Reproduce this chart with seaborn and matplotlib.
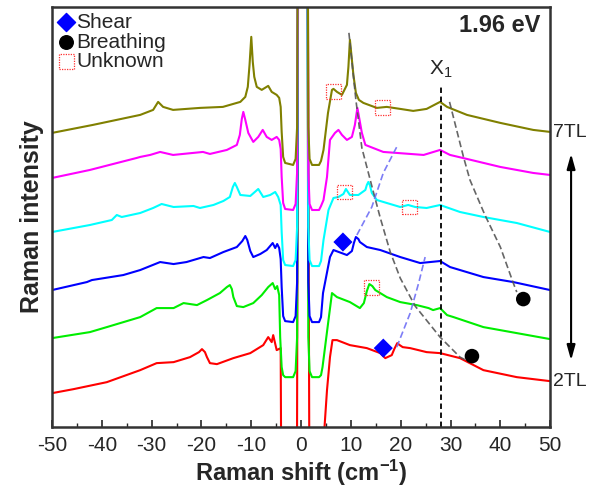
import numpy as np
import seaborn as sns
import matplotlib.pyplot as plt

sns.set_style("ticks")
plt.rcParams['font.family'] = ['Liberation Sans', 'DejaVu Sans']
plt.rcParams['mathtext.default'] = 'regular'
plt.rcParams['axes.unicode_minus'] = False

# spectra (Raman shift cm-1, intensity a.u.), bottom (2TL) to top (7TL)
red = [(-50, 34), (-45.7, 38), (-39.0, 45), (-32.3, 57), (-29.0, 64), (-25.6, 65), (-22.3, 70),
       (-20.5, 75), (-19.9, 78), (-19.3, 75), (-18.9, 70), (-18.3, 64), (-16.9, 63), (-13.6, 69),
       (-10.2, 74), (-7.6, 82), (-6.6, 90), (-5.9, 85), (-5.6, 92), (-4.9, 77), (-4.1, 79),
       (-3.85, -200), (-0.9, -200), (-0.4, 900), (1.1, 900), (1.75, -200), (4.55, -200), (4.7, 0),
       (5.2, 37), (5.8, 70), (6.3, 87), (7.2, 87), (9.8, 82), (13.2, 79), (15.9, 74), (16.9, 69),
       (18.2, 72), (18.7, 78), (19.3, 84), (19.8, 82), (20.4, 80), (21.9, 79), (25.2, 75), (27.9, 74),
       (31.9, 69), (36.6, 57), (43.3, 50), (50, 46)]

green = [(-50, 89), (-42.4, 95), (-39.0, 100), (-32.3, 110), (-29.0, 119), (-25.6, 119), (-23.6, 124),
         (-20.9, 122), (-18.9, 127), (-16.3, 134), (-14.9, 140), (-14.3, 142), (-13.9, 138), (-13.6, 130),
         (-12.9, 121), (-11.6, 120), (-9.6, 124), (-7.9, 132), (-6.6, 140), (-5.7, 144), (-5.2, 138),
         (-4.8, 141), (-4.4, 132), (-4.2, 90), (-3.9, 60), (-3.6, 52), (-3.2, 50), (-1.6, 50), (-1.1, 56),
         (-0.8, 90), (-0.4, 900), (1.1, 900), (1.45, 90), (1.7, 56), (2.2, 50), (3.6, 50), (4.0, 52),
         (4.3, 60), (5.5, 107), (6.2, 134), (7.2, 130), (9.8, 125), (11.8, 119), (12.6, 124), (13.2, 136),
         (13.7, 143), (14.3, 141), (14.9, 137), (17.2, 130), (19.9, 125), (23.2, 122), (25.6, 119),
         (26.5, 117), (27.9, 119), (29.3, 112), (30.6, 110), (36.6, 100), (43.3, 94), (50, 88)]

blue = [(-50, 137), (-43.0, 145), (-42.0, 147), (-35.7, 152), (-32.3, 157), (-28.3, 165), (-25.6, 163),
        (-23.0, 165), (-19.6, 170), (-18.3, 169), (-15.6, 175), (-12.9, 180), (-11.8, 186), (-11.2, 191),
        (-10.8, 187), (-10.2, 176), (-9.6, 170), (-8.2, 173), (-6.9, 177), (-5.7, 184), (-5.2, 179),
        (-4.8, 183), (-4.4, 179), (-4.1, 168), (-3.9, 140), (-3.6, 111), (-3.2, 106), (-1.6, 105),
        (-1.1, 111), (-0.8, 145), (-0.4, 900), (1.1, 900), (1.45, 145), (1.7, 111), (2.2, 105),
        (3.6, 105), (4.0, 110), (4.4, 134), (5.8, 170), (6.5, 177), (9.2, 172), (10.2, 176), (10.6, 184),
        (11.0, 190), (11.5, 188), (11.8, 185), (13.2, 180), (15.9, 177), (19.9, 170), (23.9, 164),
        (27.9, 166), (29.9, 160), (36.6, 150), (42.6, 145), (50, 137)]

cyan = [(-50, 195), (-42.4, 202), (-38.0, 207), (-37.0, 212), (-36.0, 210), (-32.3, 214), (-29.7, 219),
        (-28.0, 223), (-25.6, 220), (-21.6, 221), (-20.3, 219), (-17.6, 222), (-15.6, 226), (-14.3, 230),
        (-13.7, 240), (-13.3, 244), (-12.9, 240), (-12.2, 232), (-10.2, 231), (-8.6, 238), (-7.6, 230),
        (-6.2, 232), (-5.2, 235), (-4.6, 230), (-4.1, 222), (-3.9, 195), (-3.6, 167), (-3.2, 162),
        (-1.6, 161), (-1.1, 167), (-0.8, 200), (-0.4, 900), (1.1, 900), (1.45, 200), (1.7, 167),
        (2.2, 161), (3.6, 161), (4.0, 166), (4.5, 187), (5.5, 217), (6.5, 229), (7.5, 230), (8.5, 233),
        (9.0, 238), (9.8, 232), (11.5, 232), (12.9, 237), (13.2, 242), (13.5, 245), (13.8, 242),
        (14.2, 234), (15.2, 227), (17.2, 224), (19.9, 220), (21.5, 222), (22.9, 220), (25.2, 219),
        (27.9, 222), (31.9, 215), (36.6, 210), (43.3, 204), (50, 195)]

magenta = [(-50, 249), (-42.4, 257), (-33.0, 269), (-32.3, 270), (-30.3, 272), (-28.3, 275), (-25.7, 272),
           (-19.7, 275), (-18.3, 273), (-14.9, 277), (-12.9, 282), (-12.3, 292), (-11.9, 308), (-11.6, 315),
           (-11.2, 307), (-10.6, 294), (-9.6, 285), (-8.6, 290), (-7.7, 297), (-6.9, 290), (-5.9, 287),
           (-4.9, 290), (-4.4, 287), (-4.1, 278), (-3.9, 250), (-3.6, 224), (-3.2, 218), (-1.6, 217),
           (-1.1, 223), (-0.8, 255), (-0.4, 900), (1.1, 900), (1.45, 255), (1.7, 223), (2.2, 217),
           (3.6, 217), (4.0, 221), (4.5, 227), (5.2, 250), (5.8, 287), (6.8, 294), (7.5, 297), (8.2, 292),
           (9.2, 287), (10.2, 290), (10.8, 302), (11.3, 319), (11.7, 308), (12.2, 294), (12.9, 282),
           (16.5, 275), (19.2, 274), (24.6, 272), (27.9, 277), (29.9, 272), (33.3, 268), (40.0, 260),
           (46.6, 254), (50, 252)]

olive = [(-50, 294), (-41.8, 302), (-32.3, 312), (-29.7, 317), (-28.7, 325), (-27.7, 320), (-25.7, 317),
         (-20.3, 319), (-15.7, 320), (-12.2, 325), (-11.2, 330), (-10.7, 340), (-10.35, 362), (-10.0, 390),
         (-9.7, 365), (-9.4, 350), (-8.9, 340), (-7.9, 337), (-6.6, 341), (-5.9, 335), (-4.9, 332),
         (-4.4, 329), (-4.1, 320), (-3.9, 295), (-3.6, 270), (-3.2, 264), (-1.6, 262), (-1.1, 268),
         (-0.8, 300), (-0.4, 900), (1.1, 900), (1.45, 300), (1.7, 268), (2.2, 262), (3.6, 262), (4.0, 266),
         (4.5, 277), (5.4, 314), (6.2, 337), (6.5, 338), (7.2, 335), (8.2, 332), (9.2, 342), (9.5, 360),
         (9.8, 387), (10.1, 372), (10.5, 352), (11.0, 334), (11.6, 327), (12.5, 324), (15.2, 319),
         (17.2, 320), (19.9, 318), (22.5, 316), (23.9, 317), (25.2, 318), (27.9, 325), (29.3, 320),
         (33.3, 312), (40.0, 304), (46.6, 297), (50, 295)]

traces = [(red, '#ff0000'), (green, '#00ee00'), (blue, '#0000ff'),
          (cyan, '#00ffff'), (magenta, '#ff00ff'), (olive, '#808000')]

# mode positions
shear = [(8.4, 185), (16.5, 79)]
breathing = [(44.6, 128), (34.3, 71)]
unknown = [(6.5, 335), (16.4, 319), (8.8, 235), (21.7, 220), (14.1, 140)]

# guide curves
gray_a = [(9.6, 394), (11.0, 327), (12.2, 279), (14.3, 239), (15.9, 209), (17.9, 175),
          (19.9, 149), (22.9, 121), (27.9, 90), (31.9, 70), (33.9, 65)]
gray_b = [(29.8, 325), (32.6, 270), (33.9, 247), (36.9, 212), (40.0, 180), (42.6, 144), (43.3, 135)]
blue_a = [(11.2, 192), (14.2, 220), (16.5, 254), (19.2, 280)]
blue_b = [(19.2, 80), (21.9, 114), (23.6, 144), (24.9, 170)]

x1_pos = 28
x1_top = 343

fig, ax = plt.subplots(figsize=(5.98, 4.86), dpi=100)
fig.subplots_adjust(left=0.087, right=0.92, bottom=0.121, top=0.986)

for pts, c in traces:
    a = np.array(pts)
    sns.lineplot(x=a[:, 0], y=a[:, 1], color=c, lw=1.5, sort=False, estimator=None, ax=ax)

for pts, c in [(gray_a, '#555555'), (gray_b, '#555555'), (blue_a, '#6f6ff5'), (blue_b, '#6f6ff5')]:
    a = np.array(pts)
    sns.lineplot(x=a[:, 0], y=a[:, 1], color=c, lw=1.2, sort=False, estimator=None,
                 linestyle=(0, (4, 2)), alpha=0.9, ax=ax)

ax.vlines(x1_pos, 0, x1_top, colors='black', linestyles=(0, (3, 2)), lw=1.3)
ax.text(x1_pos, x1_top + 4, 'X$_1$', ha='center', va='bottom', fontsize=15)

s = np.array(shear)
sns.scatterplot(x=s[:, 0], y=s[:, 1], marker='D', s=95, color='#0000ff', edgecolor='none', ax=ax, zorder=5)
b = np.array(breathing)
sns.scatterplot(x=b[:, 0], y=b[:, 1], marker='o', s=110, color='black', edgecolor='none', ax=ax, zorder=5)
u = np.array(unknown)
ax.scatter(u[:, 0], u[:, 1], marker='s', s=115, facecolors='none', edgecolors='#ff3030',
           linewidths=0.9, linestyle=(0, (1, 1)), zorder=5)

# legend drawn by hand to keep rows tight
leg = [('D', '#0000ff', 'none', 'Shear', 0.963, 85),
       ('o', 'black', 'none', 'Breathing', 0.916, 95),
       ('s', 'none', '#ff3030', 'Unknown', 0.870, 115)]
for m, fc, ec, lab, yy, sz in leg:
    if m == 's':
        ax.scatter([0.029], [yy], transform=ax.transAxes, marker=m, s=sz, facecolors='none',
                   edgecolors=ec, linewidths=0.9, linestyle=(0, (1, 1)), clip_on=False)
    else:
        ax.scatter([0.029], [yy], transform=ax.transAxes, marker=m, s=sz, color=fc, clip_on=False)
    ax.text(0.048, yy, lab, transform=ax.transAxes, ha='left', va='center', fontsize=15)

ax.text(0.98, 0.955, '1.96 eV', transform=ax.transAxes, ha='right', va='center',
        fontsize=17, fontweight='bold')

tr = ax.get_yaxis_transform()
ax.text(1.005, 294, '7TL', transform=tr, ha='left', va='center', fontsize=14)
ax.text(1.005, 46, '2TL', transform=tr, ha='left', va='center', fontsize=14)
ax.annotate('', xy=(1.042, 64), xytext=(1.042, 276), xycoords=tr, textcoords=tr,
            arrowprops=dict(arrowstyle='<|-|>,head_width=0.25,head_length=0.9', color='black', lw=1.5))

ax.set_xlim(-50, 50)
ax.set_ylim(0, 420)
ax.set_xticks(np.arange(-50, 51, 10))
ax.set_xticks(np.arange(-45, 50, 10), minor=True)
ax.set_yticks([])
ax.tick_params(axis='x', which='major', direction='in', length=5, width=1.2, labelsize=15, pad=6)
ax.tick_params(axis='x', which='minor', direction='in', length=3, width=1.0)
for sp in ax.spines.values():
    sp.set_linewidth(1.8)
    sp.set_color('#333333')

ax.set_xlabel('Raman shift (cm$^{-1}$)', fontsize=17, fontweight='bold', labelpad=2)
ax.set_ylabel('Raman intensity', fontsize=18, fontweight='bold', labelpad=6)

fig.savefig('out.png', dpi=100)
